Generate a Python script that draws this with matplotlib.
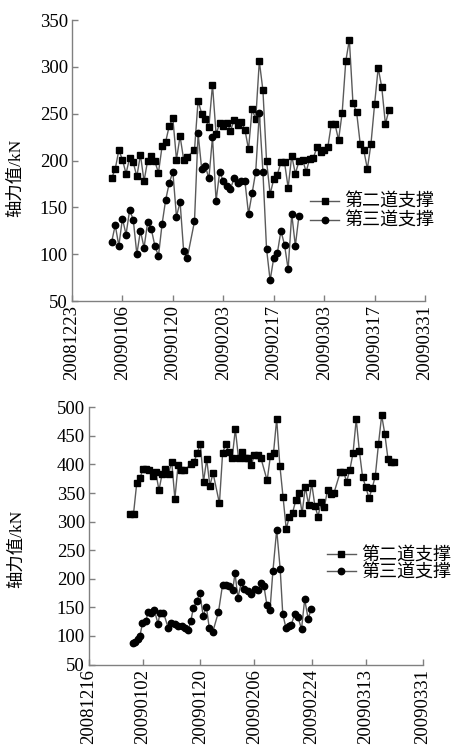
import matplotlib
matplotlib.use('Agg')
import matplotlib.pyplot as plt

plt.rcParams['font.family'] = ['Liberation Serif', 'Noto Sans CJK SC']

# ---- upper chart: days counted from 2008-12-23 ----
top_ticks = [0, 14, 28, 42, 56, 70, 84, 98]
top_tick_labels = ['20081223', '20090106', '20090120', '20090203',
                   '20090217', '20090303', '20090317', '20090331']

top_days2 = [d for d in range(11, 89) if d != 33]
top_val2 = [181, 191, 211, 201, 186, 203, 198, 183, 206, 178, 200, 205, 199, 187,
            215, 220, 237, 245, 201, 226, 201, 204,
            211, 264, 250, 244, 236, 281, 228, 240, 237, 240, 232, 243, 238, 241,
            233, 212, 255, 244, 306, 275, 200, 164, 180, 185, 198, 198, 171, 205,
            186, 199, 201, 188, 202, 203, 214, 209, 211, 214, 239, 239, 222, 251,
            306, 329, 261, 252, 218, 211, 191, 218, 260, 299, 278, 239, 254]

top_days3 = [d for d in range(11, 64) if d != 33]
top_val3 = [113, 131, 109, 138, 121, 147, 137, 100, 125, 107, 134, 127, 109, 98,
            132, 158, 176, 188, 140, 156, 103, 96,
            135, 229, 191, 194, 181, 225, 157, 188, 178, 173, 170, 181, 176, 178,
            178, 143, 165, 188, 251, 188, 106, 72, 96, 101, 125, 110, 84, 143,
            109, 141]

# ---- lower chart: days counted from 2008-12-16 ----
bot_ticks = [0, 17, 35, 52, 70, 87, 105]
bot_tick_labels = ['20081216', '20090102', '20090120', '20090206',
                   '20090224', '20090313', '20090331']

bot_days2 = [d for d in range(13, 97) if d not in (31, 40, 55, 78)]
bot_val2 = [314, 314, 367, 376, 392, 392, 390, 379, 386, 355, 384, 392, 384, 405,
            340, 399, 390, 390, 400, 404, 420, 436, 370, 409, 363, 385,
            332, 420, 436, 421, 411, 462, 411, 422, 411, 411, 399, 417, 417, 412,
            372, 414, 420, 480, 398, 343, 287, 309, 316, 337, 350, 315, 361, 330,
            367, 328, 309, 335, 326, 356, 349, 350,
            387, 387, 370, 391, 420, 479, 423, 378, 361, 341, 358, 380, 436, 486,
            453, 409, 405, 405]

bot_days3 = [13.7, 14.6, 15.3, 16.0, 16.8, 17.9, 18.6, 19.4, 20.5, 21.7,
             22.3, 23.4, 24.9, 25.8, 27.0, 28.1, 29.2, 30.2, 31.2, 32.0,
             32.8, 33.9, 34.8, 35.9, 36.9, 37.8, 38.9, 40.7, 42.0, 43.1,
             44.1, 45.2, 45.9, 46.8, 47.9, 48.8, 50.0, 51.0, 52.1, 53.1,
             54.2, 55.0, 55.9, 56.9, 57.8, 59.0, 60.1, 60.9, 61.9, 62.8,
             63.6, 64.7, 65.7, 66.8, 67.8, 68.9, 69.9]
bot_val3 = [87, 90, 95, 100, 122, 127, 142, 140, 146, 121,
            141, 141, 114, 123, 121, 117, 117, 114, 110, 126,
            149, 161, 175, 135, 151, 114, 107, 142, 190, 190,
            187, 181, 210, 167, 194, 183, 178, 173, 183, 181,
            192, 187, 155, 146, 213, 286, 217, 139, 114, 117,
            120, 139, 133, 112, 164, 130, 148]

labels = ['第二道支撑', '第三道支撑']
ylabel = '轴力值/kN'

fig = plt.figure(figsize=(4.52, 7.47), dpi=100)
ax1 = fig.add_axes([0.1593, 0.597, 0.781, 0.3762])
ax2 = fig.add_axes([0.1969, 0.1104, 0.739, 0.3443])

line_kw = dict(color='#5a5a5a', lw=1.0, mec='black', mfc='black')


def style(ax, ticks, tick_labels, ylim, ystep):
    ax.set_xlim(ticks[0], ticks[-1])
    ax.set_ylim(*ylim)
    ax.set_xticks(ticks)
    ax.set_xticklabels(tick_labels, rotation=90)
    ax.set_yticks(range(ylim[0], ylim[1] + 1, ystep))
    for s in ['top', 'right']:
        ax.spines[s].set_visible(False)
    for s in ['left', 'bottom']:
        ax.spines[s].set_color('#808080')
        ax.spines[s].set_linewidth(1.0)
    ax.tick_params(direction='in', length=4.5, width=1.0, color='#808080',
                   labelsize=13.5, pad=3)


ax1.plot(top_days2, top_val2, marker='s', ms=4.3, label=labels[0], **line_kw)
ax1.plot(top_days3, top_val3, marker='o', ms=4.6, label=labels[1], **line_kw)
style(ax1, top_ticks, top_tick_labels, (50, 350), 50)
ax1.set_ylabel(ylabel, fontsize=12.5)
ax1.yaxis.set_label_coords(-0.135, 0.44)
ax1.legend(loc='center left', bbox_to_anchor=(0.675, 0.317), frameon=False,
           fontsize=13, handlelength=1.6, handletextpad=0.3, labelspacing=0.1,
           borderpad=0, borderaxespad=0)

ax2.plot(bot_days2, bot_val2, marker='s', ms=4.3, label=labels[0], **line_kw)
ax2.plot(bot_days3, bot_val3, marker='o', ms=4.6, label=labels[1], **line_kw)
style(ax2, bot_ticks, bot_tick_labels, (50, 500), 50)
ax2.set_ylabel(ylabel, fontsize=12.5)
ax2.yaxis.set_label_coords(-0.19, 0.45)
ax2.legend(loc='center left', bbox_to_anchor=(0.712, 0.389), frameon=False,
           fontsize=13, handlelength=1.6, handletextpad=0.3, labelspacing=0.0,
           borderpad=0, borderaxespad=0)

fig.savefig('out.png', dpi=100)
